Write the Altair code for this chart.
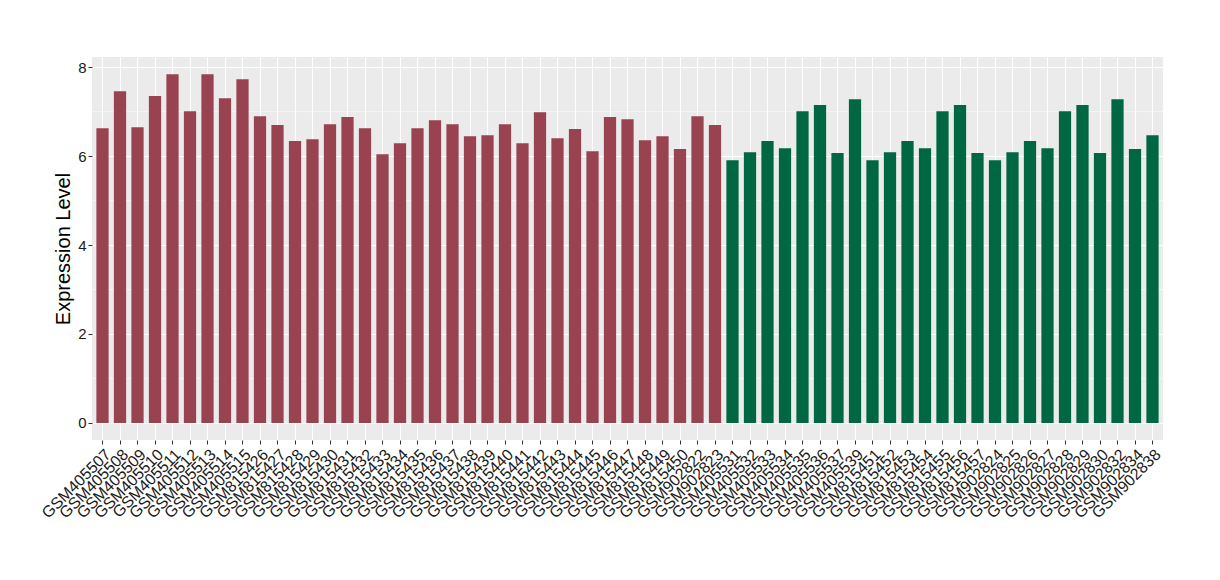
import altair as alt
import pandas as pd

samples = [
    "GSM405507", "GSM405508", "GSM405509", "GSM405510", "GSM405511", "GSM405512",
    "GSM405513", "GSM405514", "GSM405515", "GSM815426", "GSM815427", "GSM815428",
    "GSM815429", "GSM815430", "GSM815431", "GSM815432", "GSM815433", "GSM815434",
    "GSM815435", "GSM815436", "GSM815437", "GSM815438", "GSM815439", "GSM815440",
    "GSM815441", "GSM815442", "GSM815443", "GSM815444", "GSM815445", "GSM815446",
    "GSM815447", "GSM815448", "GSM815449", "GSM815450", "GSM902822", "GSM902823",
    "GSM405531", "GSM405532", "GSM405533", "GSM405534", "GSM405535", "GSM405536",
    "GSM405537", "GSM405539", "GSM815451", "GSM815452", "GSM815453", "GSM815454",
    "GSM815455", "GSM815456", "GSM815457", "GSM902824", "GSM902825", "GSM902826",
    "GSM902827", "GSM902828", "GSM902829", "GSM902830", "GSM902832", "GSM902834",
    "GSM902838",
]
values = [
    6.63, 7.46, 6.65, 7.35, 7.84, 7.01, 7.84, 7.30, 7.73, 6.90, 6.70, 6.34,
    6.38, 6.72, 6.88, 6.63, 6.04, 6.29, 6.63, 6.81, 6.72, 6.45, 6.47, 6.72,
    6.29, 6.99, 6.40, 6.61, 6.11, 6.88, 6.83, 6.36, 6.45, 6.16, 6.90, 6.70,
    5.91, 6.09, 6.34, 6.18, 7.01, 7.15, 6.07, 7.28, 5.91, 6.09, 6.34, 6.18,
    7.01, 7.15, 6.07, 5.91, 6.09, 6.34, 6.18, 7.01, 7.15, 6.07, 7.28, 6.16,
    6.47,
]
groups = ["A"] * 36 + ["B"] * 25
group_names = ["A", "B"]
group_colors = ["#994350", "#006743"]
minor_ticks = [1, 3, 5, 7]
major_ticks = [0, 2, 4, 6, 8]

df = pd.DataFrame({"sample": samples, "value": values, "group": groups})
minor_df = pd.DataFrame({"y": minor_ticks})

FONT = "Liberation Sans"

x_enc = alt.X(
    "sample:N",
    sort=samples,
    scale=alt.Scale(paddingInner=0.3, paddingOuter=0.25),
    axis=alt.Axis(
        title=None,
        labelAngle=315,
        labelAlign="right",
        labelBaseline="top",
        labelFontSize=16,
        labelFont=FONT,
        labelColor="#1a1a1a",
        labelPadding=2,
        tickColor="#333333",
        tickSize=4,
        domain=False,
        grid=True,
        gridColor="white",
        gridWidth=1.1,
        labelOverlap=False,
    ),
)
y_scale = alt.Scale(domain=[-0.385, 8.23], nice=False, zero=False)

bars = alt.Chart(df).mark_bar().encode(
    x=x_enc,
    y=alt.Y(
        "value:Q",
        scale=y_scale,
        axis=alt.Axis(
            title="Expression Level",
            titleFontSize=20,
            titleFont=FONT,
            titleFontWeight="normal",
            titleColor="black",
            titlePadding=4,
            values=major_ticks,
            labelFontSize=15,
            labelFont=FONT,
            labelColor="#1a1a1a",
            labelPadding=2,
            tickColor="#333333",
            tickSize=4,
            domain=False,
            grid=True,
            gridColor="white",
            gridWidth=1.1,
        ),
    ),
    color=alt.Color(
        "group:N",
        scale=alt.Scale(domain=group_names, range=group_colors),
        legend=None,
    ),
)

minor = alt.Chart(minor_df).mark_rule(color="white", strokeWidth=0.55).encode(
    y=alt.Y("y:Q", scale=y_scale),
)

chart = (
    alt.layer(minor, bars)
    .properties(
        width=1071,
        height=383,
        autosize=alt.AutoSizeParams(type="none"),
        padding={"left": 84, "top": 49, "right": 40, "bottom": 110},
    )
    .configure_view(fill="#EBEBEB", stroke=None)
)

chart.save("out.html", embed_options={"renderer": "svg", "actions": False})
